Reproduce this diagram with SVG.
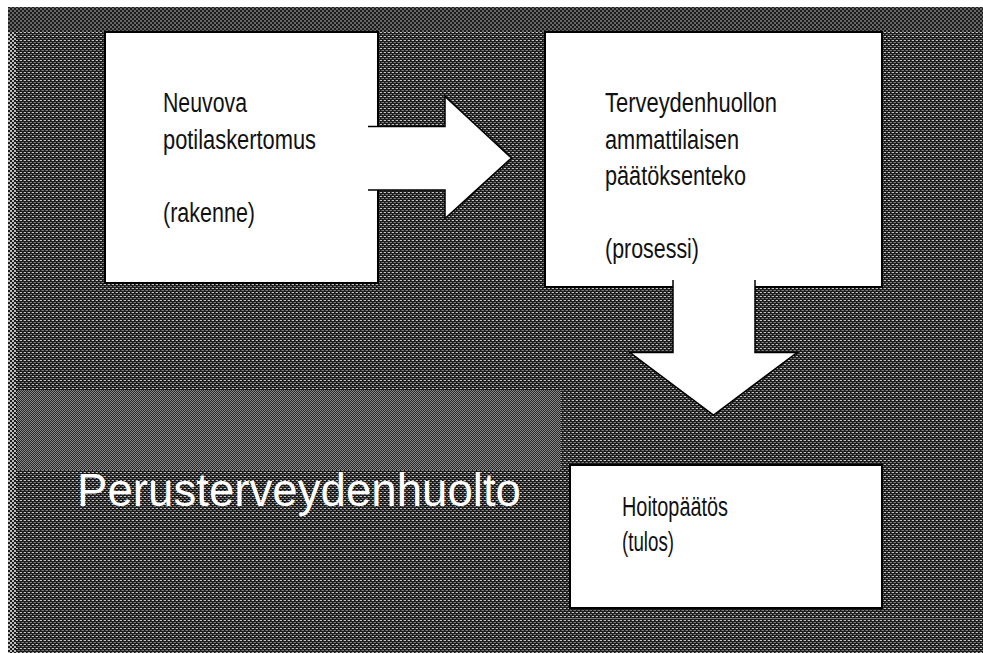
<svg xmlns="http://www.w3.org/2000/svg" width="983" height="653" viewBox="0 0 983 653">
  <defs>
    <!-- dithered grey backdrop textures -->
    <pattern id="texMain" patternUnits="userSpaceOnUse" width="4" height="4" shape-rendering="crispEdges">
      <rect width="4" height="4" fill="#1c1c1c"/>
      <rect x="0" y="0" width="2" height="1" fill="#c4c4c4"/>
      <rect x="2" y="2" width="2" height="1" fill="#7a7a7a"/>
      <rect x="3" y="0" width="1" height="1" fill="#4a4a4a"/>
      <rect x="1" y="2" width="1" height="1" fill="#4a4a4a"/>
    </pattern>
    <pattern id="texTop" patternUnits="userSpaceOnUse" width="4" height="4" shape-rendering="crispEdges">
      <rect width="4" height="4" fill="#1a1a1a"/>
      <rect x="0" y="0" width="2" height="2" fill="#666"/>
      <rect x="2" y="2" width="2" height="2" fill="#666"/>
    </pattern>
    <pattern id="texPanel" patternUnits="userSpaceOnUse" width="2" height="2" shape-rendering="crispEdges">
      <rect width="2" height="2" fill="#2a2a2a"/>
      <rect x="0" y="0" width="1" height="1" fill="#858585"/>
      <rect x="1" y="1" width="1" height="1" fill="#858585"/>
    </pattern>
    <pattern id="texEdge" patternUnits="userSpaceOnUse" width="4" height="4" shape-rendering="crispEdges">
      <rect width="4" height="4" fill="#1c1c1c"/>
      <rect x="0" y="0" width="2" height="2" fill="#bdbdbd"/>
      <rect x="2" y="2" width="2" height="2" fill="#bdbdbd"/>
    </pattern>
  </defs>
  <style>
    .box { fill: #fff; stroke: #000; stroke-width: 2; }
    .arrow { fill: #fff; stroke: #000; stroke-width: 1.5; stroke-linejoin: miter; }
    .label { font-family: "Liberation Sans", Arial, sans-serif; font-size: 27px; fill: #111; }
    .title { font-family: "Liberation Sans", Arial, sans-serif; font-size: 46px; fill: #fff; }
    .rule { stroke: #8a8a8a; stroke-width: 1; stroke-dasharray: 2 2; opacity: 0.6; }
  </style>

  <!-- backdrop -->
  <rect x="0" y="0" width="983" height="653" fill="#fff"/>
  <rect x="8" y="7" width="975" height="646" fill="url(#texMain)"/>
  <rect x="8" y="7" width="975" height="25" fill="url(#texTop)"/>
  <rect x="8" y="32" width="8" height="621" fill="url(#texEdge)"/>
  <rect x="17" y="390" width="544" height="80" fill="url(#texPanel)"/>
  <line class="rule" x1="17" y1="470.5" x2="565" y2="470.5"/>
  <line class="rule" x1="560" y1="618.5" x2="983" y2="618.5"/>

  <!-- structure box -->
  <g id="node-rakenne">
    <rect class="box" x="105" y="32" width="273" height="251"/>
    <text class="label" x="163" y="112" textLength="84" lengthAdjust="spacingAndGlyphs">Neuvova</text>
    <text class="label" x="163" y="148.5" textLength="153" lengthAdjust="spacingAndGlyphs">potilaskertomus</text>
    <text class="label" x="163" y="222" textLength="92" lengthAdjust="spacingAndGlyphs">(rakenne)</text>
  </g>

  <!-- process box -->
  <g id="node-prosessi">
    <rect class="box" x="545" y="32" width="337" height="255"/>
    <text class="label" x="605" y="112" textLength="172" lengthAdjust="spacingAndGlyphs">Terveydenhuollon</text>
    <text class="label" x="605" y="148.5" textLength="134" lengthAdjust="spacingAndGlyphs">ammattilaisen</text>
    <text class="label" x="605" y="185" textLength="141" lengthAdjust="spacingAndGlyphs">päätöksenteko</text>
    <text class="label" x="605" y="258" textLength="94" lengthAdjust="spacingAndGlyphs">(prosessi)</text>
  </g>

  <!-- outcome box -->
  <g id="node-tulos">
    <rect class="box" x="570" y="465" width="312" height="143"/>
    <text class="label" x="622" y="516" textLength="106" lengthAdjust="spacingAndGlyphs">Hoitopäätös</text>
    <text class="label" x="622" y="551" textLength="52" lengthAdjust="spacingAndGlyphs">(tulos)</text>
  </g>

  <!-- block arrows between the boxes -->
  <g id="connectors">
    <path class="arrow" d="M368,126.5 L445,126.5 L445,96.5 L511.5,158 L445,218.5 L445,190 L368,190"/>
    <path class="arrow" d="M673,280 L673,352.5 L630,352.5 L713.5,415 L797,352.5 L755,352.5 L755,280"/>
  </g>

  <!-- section title -->
  <g id="title">
    <text class="title" x="77" y="506" textLength="444" lengthAdjust="spacingAndGlyphs">Perusterveydenhuolto</text>
  </g>
</svg>
